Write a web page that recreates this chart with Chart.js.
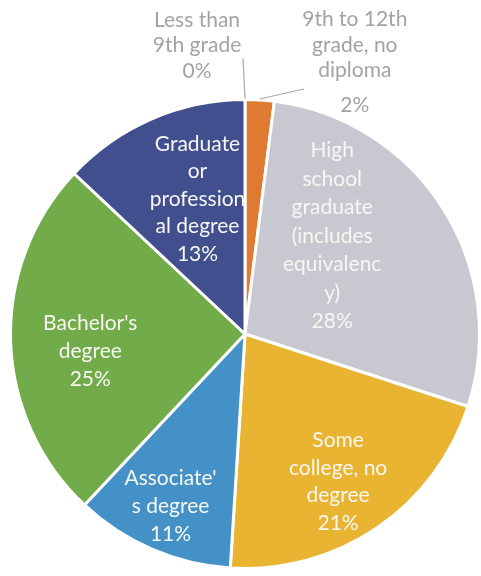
<!DOCTYPE html>
<html>
<head>
<meta charset="utf-8">
<script src="https://cdn.jsdelivr.net/npm/chart.js@4/dist/chart.umd.min.js"></script>
<style>
  html, body { margin: 0; padding: 0; background: #fff; }
  #wrap { width: 481px; height: 576px; }
</style>
</head>
<body>
<div id="wrap"><canvas id="eduChart" width="481" height="576"></canvas></div>
<script>
// Educational attainment shares (percent)
const categories = [
    ['Less than', '9th grade'],
    ['9th to 12th', 'grade, no', 'diploma'],
    ['High', 'school', 'graduate', '(includes', 'equivalenc', 'y)'],
    ['Some', 'college, no', 'degree'],
    ['Associate\'', 's degree'],
    ['Bachelor\'s', 'degree'],
    ['Graduate', 'or', 'profession', 'al degree']
];
const shares = [0, 2, 28, 21, 11, 25, 13];
const sliceColors = ['#5b9bd5', '#df7b30', '#c7c8d0', '#e8b431', '#4391c7', '#72ab4a', '#414f8e'];

// where each label sits: fraction of radius along the slice's mid angle, plus angle nudge (deg)
// outside labels carry an explicit offset from the rim instead
const labelPlace = [
    { outside: true, dx: -48, dy: -66, lh: 25.5, valueGap: 25.5, lineTo: [-2, -40] },
    { outside: true, dx: 95, dy: -54, lh: 25.5, valueGap: 35, lineTo: [44, -10] },
    { r: 0.56, da: -16, lh: 28.5 },
    { r: 0.745, da: 2, lh: 27.5 },
    { r: 0.80, da: 0, lh: 28 },
    { r: 0.664, da: -4.5, lh: 28 },
    { r: 0.61, da: 4, lh: 27.5 }
];

const FONT = '21px Lato, "Open Sans", sans-serif';

const sliceLabels = {
    id: 'sliceLabels',
    afterDatasetsDraw(chart) {
        const ctx = chart.ctx;
        const meta = chart.getDatasetMeta(0);
        ctx.save();
        ctx.font = FONT;
        ctx.textAlign = 'center';
        ctx.textBaseline = 'middle';
        meta.data.forEach((arc, i) => {
            const p = arc.getProps(['x', 'y', 'startAngle', 'endAngle', 'outerRadius'], true);
            const place = labelPlace[i];
            const lines = categories[i].concat([shares[i] + '%']);
            const mid = (p.startAngle + p.endAngle) / 2;
            if (place.outside) {
                const ex = p.x + Math.cos(mid) * (p.outerRadius + 1);
                const ey = p.y + Math.sin(mid) * (p.outerRadius + 1);
                // leader line from the rim to the label
                ctx.strokeStyle = '#a9a9a9';
                ctx.lineWidth = 1.2;
                ctx.beginPath();
                ctx.moveTo(ex, ey);
                ctx.lineTo(ex + place.lineTo[0], ey + place.lineTo[1]);
                ctx.stroke();
                ctx.fillStyle = '#a3a3a3';
                let y = ey + place.dy - (lines.length - 2) * place.lh / 2;
                lines.forEach((t, k) => {
                    if (k === lines.length - 1) y += place.valueGap - place.lh;
                    ctx.fillText(t, ex + place.dx, y);
                    y += place.lh;
                });
            } else {
                const a = mid + place.da * Math.PI / 180;
                const cx = p.x + Math.cos(a) * p.outerRadius * place.r;
                const cy = p.y + Math.sin(a) * p.outerRadius * place.r;
                ctx.fillStyle = '#f7f7f2';
                const top = cy - (lines.length - 1) * place.lh / 2;
                lines.forEach((t, k) => ctx.fillText(t, cx, top + k * place.lh));
            }
        });
        ctx.restore();
    }
};

new Chart(document.getElementById('eduChart').getContext('2d'), {
    type: 'pie',
    data: {
        labels: categories.map(c => c.join(' ')),
        datasets: [{
            data: shares,
            backgroundColor: sliceColors,
            borderColor: '#ffffff',
            borderWidth: 3
        }]
    },
    options: {
        responsive: false,
        animation: false,
        layout: { padding: { left: 9, right: 0, top: 98, bottom: 6 } },
        plugins: {
            legend: { display: false },
            tooltip: { enabled: false }
        }
    },
    plugins: [sliceLabels]
});
</script>
</body>
</html>
